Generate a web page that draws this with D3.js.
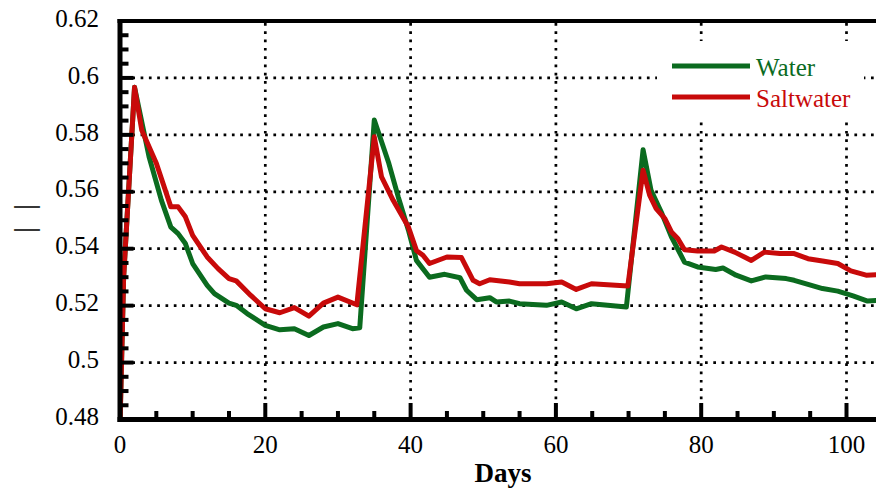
<!DOCTYPE html>
<html>
<head>
<meta charset="utf-8">
<script src="https://cdn.jsdelivr.net/npm/d3@7"></script>
<style>
  html, body { margin: 0; padding: 0; background: #fff; }
  svg { display: block; }
  text { font-family: "Liberation Serif", Tinos, "Times New Roman", Times, "DejaVu Serif", serif; }
</style>
</head>
<body>
<svg id="chart" width="876" height="491"></svg>
<script>
// ---- data ----
const waterDays = [0, 0.5, 2, 4, 5.7, 7, 8, 9, 10, 12, 13, 15, 16, 17.5, 20, 22, 24, 26, 28, 30, 32, 33, 35, 37, 38.3, 39.7, 40.8, 42.6, 44.7, 46.8, 47.7, 49.1, 50.9, 51.8, 53.6, 55, 58.7, 60.8, 62.8, 64.9, 69.7, 72, 73.1, 74.5, 75.9, 77.7, 79.5, 82, 83, 84.8, 86.9, 88.9, 91.7, 92.8, 94.7, 96.7, 98.8, 100.9, 102.9, 104.5];
const waterValues = [0.478, 0.53, 0.5967, 0.5723, 0.557, 0.5476, 0.5453, 0.5418, 0.5348, 0.5271, 0.5242, 0.5209, 0.5201, 0.5172, 0.5131, 0.5115, 0.5119, 0.5095, 0.5125, 0.5137, 0.5119, 0.5122, 0.5852, 0.570, 0.5582, 0.5465, 0.5359, 0.530, 0.531, 0.5298, 0.5254, 0.5221, 0.5228, 0.5213, 0.5216, 0.5207, 0.5201, 0.5213, 0.5189, 0.5207, 0.5195, 0.5748, 0.5605, 0.5529, 0.5442, 0.5353, 0.5336, 0.5327, 0.5332, 0.5307, 0.5287, 0.5301, 0.5295, 0.5289, 0.5275, 0.526, 0.5251, 0.5234, 0.5216, 0.5219];

const saltDays = [0, 0.5, 2, 3, 5, 7, 8, 9, 10, 12, 13.5, 15, 16, 18, 20, 22, 24, 26, 28, 30, 32.6, 35, 36, 37.6, 39.7, 40.8, 41.7, 42.6, 45, 47, 48.6, 49.5, 50.9, 53.6, 55, 58.7, 60.8, 62.8, 64.9, 69.9, 72, 72.9, 73.8, 75, 75.9, 76.8, 77.7, 79.5, 81.8, 82.8, 84.6, 86.9, 88.7, 90.8, 92.8, 94.7, 96.7, 98.8, 100.6, 102.7, 104.5];
const saltValues = [0.478, 0.53, 0.5967, 0.5816, 0.570, 0.5547, 0.5547, 0.5512, 0.5447, 0.5371, 0.533, 0.5295, 0.5287, 0.5236, 0.5189, 0.5175, 0.5193, 0.5163, 0.5209, 0.523, 0.5203, 0.5793, 0.5652, 0.557, 0.5476, 0.5394, 0.5377, 0.5348, 0.5371, 0.5369, 0.5289, 0.5277, 0.5291, 0.5283, 0.5277, 0.5277, 0.5283, 0.5257, 0.5277, 0.5269, 0.5676, 0.5588, 0.5541, 0.5506, 0.5459, 0.5435, 0.5396, 0.5392, 0.5392, 0.5406, 0.5388, 0.5359, 0.5388, 0.5383, 0.5383, 0.5365, 0.5357, 0.5348, 0.5322, 0.5307, 0.5309];

const xTicks = [0, 20, 40, 60, 80, 100];
const xMinorTicks = d3.range(0, 105, 5);
const yTicks = [0.48, 0.5, 0.52, 0.54, 0.56, 0.58, 0.6, 0.62];
const yTickLabels = ["0.48", "0.5", "0.52", "0.54", "0.56", "0.58", "0.6", "0.62"];
const yMinorTicks = d3.range(0, 29).map(i => 0.48 + i * 0.005);
const seriesNames = ["Water", "Saltwater"];
const seriesColors = ["#0b6b1f", "#c80a0a"];

// ---- layout ----
const svg = d3.select("#chart");
const FONT = "'Liberation Serif', Tinos, 'Times New Roman', Times, 'DejaVu Serif', serif";
const pL = 120, pR = 876, pT = 21, pB = 419.5;
const x = d3.scaleLinear().domain([0, 100]).range([pL, 846.5]);
const y = d3.scaleLinear().domain([0.48, 0.62]).range([pB, pT]);

svg.append("defs").append("clipPath").attr("id", "plotclip")
  .append("rect").attr("x", pL).attr("y", pT).attr("width", pR - pL).attr("height", pB - pT);

// grid
const grid = svg.append("g").attr("stroke", "#000").attr("stroke-width", 2.7)
  .attr("stroke-dasharray", "2.7 5.6").attr("fill", "none");
grid.selectAll(".vg").data(xTicks.filter(d => d > 0)).join("line")
  .attr("x1", d => x(d)).attr("x2", d => x(d)).attr("y1", pT + 2).attr("y2", pB - 2);
grid.selectAll(".hg").data(yTicks.filter(d => d > 0.48 && d < 0.62)).join("line")
  .attr("x1", pL + 4).attr("x2", pR).attr("y1", d => y(d)).attr("y2", d => y(d));

// lines
const lineGen = d3.line().x(d => x(d[0])).y(d => y(d[1]));
const plot = svg.append("g").attr("clip-path", "url(#plotclip)");
const series = [
  d3.zip(waterDays, waterValues),
  d3.zip(saltDays, saltValues)
];
series.forEach((s, i) => {
  plot.append("path").datum(s).attr("d", lineGen)
    .attr("fill", "none").attr("stroke", seriesColors[i])
    .attr("stroke-width", 5).attr("stroke-linejoin", "round");
});

// legend
const lg = svg.append("g");
lg.append("rect").attr("x", 657).attr("y", 41).attr("width", 207).attr("height", 80).attr("fill", "#fff");
seriesNames.forEach((n, i) => {
  const by = 75.7 + i * 31;
  lg.append("line").attr("x1", 672).attr("x2", 750).attr("y1", by - 9.7).attr("y2", by - 9.7)
    .attr("stroke", seriesColors[i]).attr("stroke-width", 5);
  lg.append("text").attr("x", 756).attr("y", by).attr("font-size", 25)
    .attr("font-family", FONT).attr("fill", seriesColors[i]).text(n);
});

// axes frame
const frame = svg.append("g").attr("stroke", "#000").attr("fill", "none");
frame.append("line").attr("x1", pL).attr("x2", pL).attr("y1", pT - 2).attr("y2", pB + 2.5).attr("stroke-width", 5);
frame.append("line").attr("x1", pL - 2.5).attr("x2", pR).attr("y1", pB).attr("y2", pB).attr("stroke-width", 5);
frame.append("line").attr("x1", pL - 2.5).attr("x2", pR).attr("y1", pT).attr("y2", pT).attr("stroke-width", 4);

// ticks
const ticks = svg.append("g").attr("stroke", "#000").attr("stroke-width", 4);
ticks.selectAll(".xmin").data(xMinorTicks.filter(d => d % 20 !== 0)).join("line")
  .attr("x1", d => x(d)).attr("x2", d => x(d)).attr("y1", pB).attr("y2", pB - 8.5);
ticks.selectAll(".xmaj").data(xTicks.filter(d => d > 0)).join("line")
  .attr("x1", d => x(d)).attr("x2", d => x(d)).attr("y1", pB).attr("y2", pB - 16.5);
ticks.selectAll(".ymin").data(yMinorTicks.filter((d, i) => i % 4 !== 0)).join("line")
  .attr("x1", pL).attr("x2", pL + 8.5).attr("y1", d => y(d)).attr("y2", d => y(d));
ticks.selectAll(".ymaj").data(yTicks.filter(d => d > 0.48 && d < 0.62)).join("line")
  .attr("x1", pL).attr("x2", pL + 13.5).attr("y1", d => y(d)).attr("y2", d => y(d));

// tick labels
const labels = svg.append("g").attr("font-size", 25).attr("font-family", FONT).attr("fill", "#000");
labels.selectAll(".xl").data(xTicks).join("text")
  .attr("x", d => x(d)).attr("y", 453).attr("text-anchor", "middle").text(d => d);
labels.selectAll(".yl").data(yTicks).join("text")
  .attr("x", 99).attr("y", d => y(d) + 5.7).attr("text-anchor", "end")
  .text((d, i) => yTickLabels[i]);

// axis titles
svg.append("text").attr("x", 503).attr("y", 481.5).attr("text-anchor", "middle")
  .attr("font-family", FONT).attr("font-size", 27).attr("font-weight", "bold").text("Days");
svg.append("text")
  .attr("transform", "translate(34,218.5) rotate(-90)")
  .attr("font-family", FONT).attr("text-anchor", "middle").attr("font-size", 30).attr("word-spacing", 9.5)
  .text("| |");
</script>
</body>
</html>
